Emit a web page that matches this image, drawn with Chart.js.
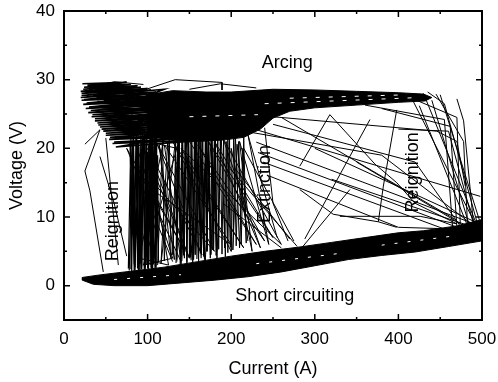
<!DOCTYPE html>
<html><head><meta charset="utf-8">
<script src="https://cdn.jsdelivr.net/npm/chart.js@4/dist/chart.umd.min.js"></script>
<style>html,body{margin:0;padding:0;background:#fff}</style>
</head><body>
<canvas id="c" width="498" height="382"></canvas>
<script>
// ---- tick values ----
const xTicks = [0, 100, 200, 300, 400, 500];
const xMinorTicks = [50, 150, 250, 350, 450];
const yTicks = [0, 10, 20, 30, 40];
const yMinorTicks = [-5, 5, 15, 25, 35];

// ---- dense arcing band outline [current A, voltage V] ----
const arcBand = [[100,21.8],[100,27.8],[130,28.4],[170,28.2],[200,28.2],[250,28.6],[300,28.5],[350,28.3],[400,28.1],[430,27.9],[440,27.4],[432,26.9],[400,26.7],[350,26.3],[300,25.9],[270,25.4],[250,24.4],[235,22.8],[215,21.6],[190,21.2],[160,21.0],[130,21.2],[100,21.8]];

// ---- dense short-circuit band outline ----
const shortBand = [[22,0.8],[35,0.2],[60,0.0],[100,0.0],[140,0.4],[180,0.8],[220,1.3],[260,2.0],[300,2.9],[340,3.8],[380,4.4],[420,4.9],[460,5.7],[499,6.5],[499,9.6],[470,8.7],[430,8.0],[400,7.7],[360,7.0],[320,6.3],[280,5.6],[240,5.0],[200,4.3],[160,3.5],[120,2.7],[80,2.1],[45,1.6],[22,1.2],[22,0.8]];

// ---- light streaks inside the dense bands ----
const arcStreaks = [[240,26.5],[425,27.4],null,[150,24.6],[232,24.9],null,[270,27.3],[410,27.8]];
const shortStreaks = [[230,3.2],[330,4.7],null,[380,5.9],[470,7.3],null,[60,0.9],[140,1.6]];

// ---- arcing hatch zig-zags (left part) ----
const arcHatchDown = [[22,29.4],[75,29.6],[24,28.9],[88,29.1],[20,28.3],[100,28.7],[21,27.7],[110,28.2],[24,27.1],[118,27.7],[27,26.6],[125,27.2],[30,26.0],[132,26.6],[32,25.5],[138,26.0],[34,24.9],[145,25.4],[37,24.3],[150,24.8],[40,23.7],[155,24.2],[43,23.1],[160,23.6],[47,22.5],[165,23.0],[50,21.9],[170,22.4],[54,21.3],[175,21.8],[58,20.7],[180,21.3],[62,20.2],[150,22.0],[40,27.5],[120,26.0],[30,28.6],[95,27.3],[50,26.2],[130,24.0],[60,25.0],[140,22.5],[70,23.8],[110,21.0]];
const arcHatchUp = [[60,20.9],[172,21.6],[55,21.6],[168,22.7],[50,22.2],[162,23.3],[45,22.8],[158,23.9],[41,23.4],[152,24.5],[37,24.0],[147,25.1],[33,24.6],[141,25.7],[29,25.2],[135,26.3],[26,25.8],[128,26.9],[23,26.4],[121,27.4],[21,27.0],[113,28.0],[20,27.4],[104,28.5],[21,28.0],[92,28.9],[23,28.6],[80,29.3],[28,29.2],[65,29.5]];
const arcHatchMid = [[70,21.5],[140,21.9],[65,22.6],[150,23.0],[58,23.8],[145,24.0],[52,24.6],[140,25.0],[45,25.9],[130,25.6],[40,26.8],[125,26.2],[35,27.8],[115,27.0],[30,28.9],[100,28.2],[40,29.0],[90,28.4],[55,27.9],[120,28.6],[70,26.3],[135,27.4],[80,25.0],[140,26.7],[85,23.5],[150,25.8]];
const arcTop = [[91,28.3],[133,30.0],[189,29.6],[189,28.5],null,[30,28.8],[60,29.7],[95,29.3],null,[150,28.6],[187,29.4],[230,28.8]];

// ---- vertical strands (extinction / reignition columns) ----
const strandsA = [[78,2.2],[82,20.5],[84,1.8],[86,21.5],[88,2.5],[87,19.8],[90,2.0],[92,22.0],[93,2.8],[95,20.5],[96,1.9],[98,21.8],[99,3.0],[100,19.5],[101,2.2],[103,22.3],[104,2.6],[106,20.8],[107,3.1],[109,21.5],[110,2.4],[112,19.0],[113,3.5],[108,22.5],[105,2.0],[102,21.0],[97,2.5],[94,22.6],[91,3.2],[89,21.0],[85,2.7],[83,22.2],[80,2.4]];
const strandsA2 = [[79,20.8],[81,2.0],[83,21.3],[85,2.3],[87,22.0],[89,1.9],[91,20.3],[93,2.4],[95,21.7],[97,2.0],[99,22.4],[100,2.5],[102,20.2],[103,3.0],[105,21.9],[106,2.2],[108,20.4],[110,2.8],[111,22.0],[109,2.1],[104,19.8],[100,2.9],[96,22.8],[92,2.3],[88,20.6],[84,3.1],[80,21.5],[77,2.5]];
const strandsB = [[135,3.5],[138,21.5],[140,3.0],[142,22.5],[144,4.0],[145,21.0],[147,3.2],[149,22.8],[150,4.2],[152,21.3],[154,3.4],[156,22.6],[157,4.5],[159,21.0],[161,3.6],[163,22.4],[164,4.8],[166,21.2],[168,3.8],[170,22.6],[171,5.0],[173,21.4],[175,4.0],[177,22.8],[178,5.2],[180,21.6],[182,4.4],[184,23.0],[185,5.3],[187,21.8],[189,4.6],[191,22.5],[192,5.5],[194,21.0],[196,4.8],[198,22.0],[199,5.6],[196,21.5],[193,4.2],[188,22.2],[183,3.9],[176,21.8],[169,3.5],[162,22.0],[155,3.8],[148,21.9],[141,3.6]];
const strandsB2 = [[133,21.0],[135,3.8],[137,21.8],[139,3.1],[141,22.3],[143,4.4],[145,21.7],[147,3.5],[149,22.0],[151,4.1],[153,21.5],[155,4.6],[157,22.8],[159,3.9],[161,21.2],[163,4.7],[165,22.2],[167,4.2],[169,21.3],[171,5.0],[173,22.4],[175,4.5],[177,21.5],[179,5.2],[181,22.6],[183,5.0],[180,21.4],[176,4.5],[170,22.6],[164,4.0],[158,21.6],[152,3.7],[146,22.3],[140,4.1],[136,21.4],[134,3.3]];
const strandsMid = [[112,3.0],[118,21.5],[120,3.6],[126,22.0],[128,4.0],[114,20.5],[132,3.8],[124,21.0],[116,3.2],[134,21.8],[130,4.5],[136,20.5]];
const strandsEdge = [[200,5.0],[203,21.5],[206,5.8],[209,21.0],[212,6.0],[215,21.8],[218,6.2],[214,20.0],[210,5.5],[205,22.0],[202,5.2],[207,20.6],[220,6.5]];
const strandsDiag = [[92,21.0],[150,4.0],[100,20.0],[165,4.5],[110,21.0],[180,5.0],[85,18.0],[140,3.5],[120,20.5],[200,6.0],[105,14.0],[145,5.0],[75,20.0],[130,3.5],null,[85,21.0],[130,4.0],[95,3.0],[135,20.0],[100,21.0],[125,3.0],[90,4.0],[120,21.5]];
const strandsDiag2 = [[150,21.0],[230,6.0],[160,20.5],[240,6.5],[170,21.5],[250,7.0],[180,21.0],[235,5.5],[190,21.5],[260,6.0],[140,20.0],[215,5.5],[130,21.0],[200,5.0],[200,20.0],[225,5.0],[210,21.0],[245,6.0],[220,22.0],[255,7.0]];

// ---- left reignition outliers ----
const leftReig = [[25,20.6],[43,22.7],[25,16.7],[31,13.8],[47,2.0],null,[43,18.8],[60,12.0],[75,4.3],null,[50,21.5],[65,3.0]];

// ---- extinction fan toward lower right ----
const fanLines = [[222,24.9],[446,22.5],[470,21.0],[480,14.5],null,[222,23.0],[498,13.0],null,[225,22.3],[380,19.0],[498,8.0],null,[230,20.9],[495,8.8],null,[232,19.4],[490,7.6],null,[238,18.0],[485,6.9],null,[245,16.0],[400,8.5],[480,8.2],null,[282,17.4],[318,24.9],[372,17.7],[398,15.0],[420,12.0],[470,9.0],null,[398,25.6],[382,14.5],[376,9.3],null,[199,17.0],[279,5.7],null,[282,14.0],[322,10.4],[376,9.3],[398,8.5],null,[342,14.0],[285,5.6],null,[366,24.2],[288,6.8],null,[260,24.5],[470,9.5],null,[250,23.5],[420,18.0],[475,8.5],null,[205,17.0],[270,6.8],null,[215,20.0],[275,6.5],null,[190,12.0],[260,5.5],null,[240,23.0],[250,12.0],[268,6.5],null,[330,10.1],[426,10.1],[470,9.0],null,[300,20.0],[497,9.0],null,[350,18.0],[495,7.5],null,[320,15.5],[490,8.5]];

// ---- right reignition lines ----
const rightLines = [[415,27.5],[492,9.0],null,[430,28.0],[495,8.5],null,[440,27.0],[488,7.5],null,[450,27.8],[497,9.5],null,[425,26.2],[485,8.0],null,[380,25.8],[462,23.2],[470,8.5],null,[410,27.6],[470,24.5],[474,9.0],null,[360,26.3],[455,24.2],[465,8.2],null,[445,27.9],[478,21.0],[483,8.0],null,[470,27.2],[478,24.0],[490,8.8],null,[435,28.2],[455,26.5],[498,7.5],null,[400,22.8],[460,22.5],[492,8.0]];

// ---- region labels ----
const labels = [
  {text:'Arcing', i:267, v:32.4, rot:0},
  {text:'Short circuiting', i:276, v:-1.5, rot:0},
  {text:'Reignition', i:59, v:9.4, rot:-90},
  {text:'Extinction', i:241, v:14.8, rot:-90},
  {text:'Reignition', i:418, v:16.5, rot:-90}
];

const toPts = arr => arr.map(p => p ? {x:p[0], y:p[1]} : {x:null, y:null});
const lineDs = (arr, w, color, dash) => ({data: toPts(arr), borderColor: color || '#000', borderWidth: w || 1, borderDash: dash || [], pointRadius:0, fill:false, spanGaps:false, tension:0});
const bandDs = arr => ({data: toPts(arr), borderColor:'#000', backgroundColor:'#000', borderWidth:1, pointRadius:0, fill:'shape', tension:0});

const FONT = '"Liberation Sans", Arial, sans-serif';

const decor = {
  id:'decor',
  afterDatasetsDraw(chart){
    const {ctx, chartArea:a, scales:{x, y}} = chart;
    ctx.save();
    ctx.fillStyle = '#000';
    ctx.font = '18px ' + FONT;
    ctx.textAlign = 'center';
    ctx.textBaseline = 'middle';
    labels.forEach(l => {
      const px = x.getPixelForValue(l.i), py = y.getPixelForValue(l.v);
      ctx.save(); ctx.translate(px, py); ctx.rotate(l.rot * Math.PI / 180);
      ctx.fillText(l.text, 0, 0); ctx.restore();
    });
    ctx.strokeStyle = '#000';
    ctx.lineWidth = 2;
    ctx.strokeRect(a.left, a.top, a.right - a.left, a.bottom - a.top);
    ctx.lineWidth = 1.5;
    const tick = (vals, len, horiz) => vals.forEach(v => {
      ctx.beginPath();
      if (horiz) {
        const p = x.getPixelForValue(v);
        ctx.moveTo(p, a.bottom); ctx.lineTo(p, a.bottom - len);
        ctx.moveTo(p, a.top); ctx.lineTo(p, a.top + len);
      } else {
        const p = y.getPixelForValue(v);
        ctx.moveTo(a.left, p); ctx.lineTo(a.left + len, p);
        ctx.moveTo(a.right, p); ctx.lineTo(a.right - len, p);
      }
      ctx.stroke();
    });
    tick(xTicks, 6, true); tick(xMinorTicks, 3, true);
    tick(yTicks, 6, false); tick(yMinorTicks, 3, false);
    ctx.restore();
  }
};

new Chart(document.getElementById('c'), {
  type:'line',
  data:{datasets:[
    lineDs(arcStreaks, 1, '#fff', [4, 9]), lineDs(shortStreaks, 1, '#fff', [3, 10]),
    lineDs(arcTop), lineDs(arcHatchDown, 1.6), lineDs(arcHatchUp, 1.6), lineDs(arcHatchMid, 1.6),
    lineDs(strandsA, 1.2), lineDs(strandsA2, 1.2), lineDs(strandsB, 1.0), lineDs(strandsB2, 1.1),
    lineDs(strandsMid, 1.0), lineDs(strandsEdge, 1.0), lineDs(strandsDiag), lineDs(strandsDiag2),
    lineDs(leftReig), lineDs(fanLines), lineDs(rightLines),
    bandDs(arcBand), bandDs(shortBand)
  ]},
  options:{
    responsive:false, animation:false, devicePixelRatio:1,
    layout:{padding:{left:0, right:16, top:11, bottom:0}},
    plugins:{legend:{display:false}, tooltip:{enabled:false}},
    scales:{
      x:{type:'linear', min:0, max:500,
        afterBuildTicks: s => { s.ticks = xTicks.map(v => ({value:v})); },
        afterFit: s => { s.height = 62; s.paddingLeft = 0; s.paddingRight = 0; },
        grid:{display:false, drawTicks:false}, border:{display:false},
        ticks:{color:'#000', padding:9, font:{family:FONT, size:17}},
        title:{display:true, text:'Current (A)', color:'#000', font:{family:FONT, size:18}, padding:{top:0, bottom:2}}
      },
      y:{type:'linear', min:-5, max:40,
        afterBuildTicks: s => { s.ticks = yTicks.map(v => ({value:v})); },
        afterFit: s => { s.width = 64; s.paddingTop = 0; s.paddingBottom = 0; },
        grid:{display:false, drawTicks:false}, border:{display:false},
        ticks:{color:'#000', padding:9, font:{family:FONT, size:17}},
        title:{display:true, text:'Voltage (V)', color:'#000', font:{family:FONT, size:18}, padding:{top:6, bottom:6}}
      }
    }
  },
  plugins:[decor]
});
</script>
</body></html>
